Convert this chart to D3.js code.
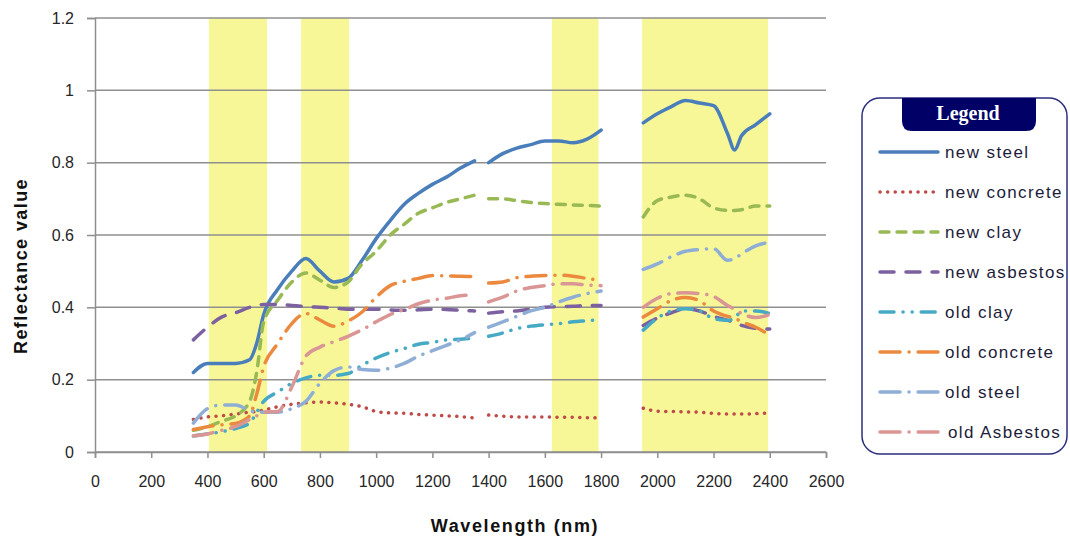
<!DOCTYPE html>
<html><head><meta charset="utf-8">
<script src="https://cdn.jsdelivr.net/npm/d3@7"></script>
<style>
html,body{margin:0;padding:0;background:#fff;}
svg{display:block;font-family:"Liberation Sans",Arial,sans-serif;}
</style></head>
<body><svg id="chart" width="1070" height="541"></svg>
<script>
// ---- data ----
const wavelengths = [350,400,450,500,550,575,600,650,700,750,800,850,900,950,1000,1050,1100,1150,1200,1250,1300,1350,
  1375,
  1400,1450,1500,1550,1600,1650,1700,1750,1800,
  1875,
  1950,2000,2050,2100,2150,2200,2250,2275,2300,2350,2400];

const seriesNames = ["new steel","new concrete","new clay","new asbestos","old clay","old concrete","old steel","old Asbestos"];

const newSteel = [0.22,0.245,0.245,0.245,0.255,0.30,0.38,0.45,0.50,0.535,0.50,0.47,0.48,0.53,0.59,0.64,0.685,0.715,0.74,0.76,0.785,0.805,
  null,
  0.80,0.825,0.84,0.85,0.86,0.86,0.855,0.865,0.89,
  null,
  0.91,0.935,0.955,0.972,0.965,0.958,0.88,0.835,0.875,0.905,0.935];
const newConcrete = [0.09,0.097,0.10,0.105,0.11,0.112,0.116,0.125,0.132,0.136,0.138,0.136,0.132,0.125,0.112,0.108,0.107,0.104,0.102,0.10,0.098,0.094,
  null,
  0.102,0.099,0.097,0.097,0.097,0.096,0.096,0.095,0.094,
  null,
  0.121,0.113,0.112,0.111,0.11,0.107,0.105,0.105,0.105,0.106,0.108];
const newClay = [0.06,0.07,0.085,0.10,0.14,0.22,0.36,0.42,0.47,0.495,0.475,0.455,0.47,0.52,0.555,0.60,0.63,0.66,0.675,0.69,0.70,0.71,
  null,
  0.70,0.70,0.695,0.69,0.687,0.685,0.683,0.682,0.68,
  null,
  0.65,0.695,0.705,0.71,0.70,0.675,0.668,0.668,0.67,0.68,0.68];
const newAsbestos = [0.31,0.345,0.373,0.385,0.40,0.405,0.408,0.408,0.405,0.402,0.40,0.398,0.395,0.395,0.395,0.393,0.392,0.393,0.395,0.394,0.392,0.39,
  null,
  0.384,0.388,0.39,0.395,0.40,0.402,0.403,0.405,0.405,
  null,
  0.35,0.37,0.385,0.396,0.39,0.375,0.364,0.358,0.35,0.342,0.34];
const oldClay = [0.044,0.05,0.056,0.065,0.08,0.11,0.14,0.166,0.19,0.205,0.212,0.212,0.217,0.24,0.26,0.275,0.286,0.298,0.303,0.31,0.312,0.315,
  null,
  0.32,0.329,0.341,0.348,0.352,0.355,0.36,0.363,0.366,
  null,
  0.337,0.37,0.39,0.396,0.39,0.369,0.364,0.37,0.39,0.39,0.383];
const oldConcrete = [0.062,0.07,0.075,0.079,0.10,0.16,0.235,0.30,0.355,0.383,0.365,0.348,0.362,0.387,0.428,0.46,0.472,0.48,0.488,0.487,0.486,0.485,
  null,
  0.467,0.47,0.482,0.486,0.488,0.489,0.486,0.48,0.474,
  null,
  0.373,0.396,0.419,0.427,0.418,0.39,0.375,0.37,0.36,0.345,0.323];
const oldSteel = [0.08,0.12,0.13,0.13,0.115,0.11,0.11,0.11,0.12,0.14,0.19,0.225,0.235,0.228,0.226,0.232,0.245,0.265,0.28,0.295,0.31,0.33,
  null,
  0.345,0.36,0.375,0.39,0.40,0.415,0.428,0.438,0.445,
  null,
  0.505,0.52,0.54,0.555,0.56,0.562,0.53,0.535,0.548,0.57,0.58];
const oldAsbestos = [0.045,0.05,0.06,0.07,0.09,0.10,0.11,0.112,0.18,0.265,0.29,0.305,0.32,0.338,0.36,0.38,0.394,0.41,0.42,0.425,0.432,0.435,
  null,
  0.415,0.428,0.445,0.455,0.46,0.465,0.465,0.462,0.46,
  null,
  0.40,0.425,0.438,0.44,0.438,0.43,0.405,0.395,0.383,0.372,0.38];

const seriesValues = [newSteel,newConcrete,newClay,newAsbestos,oldClay,oldConcrete,oldSteel,oldAsbestos];
const seriesColors = ["#4A7EBB","#BE4B48","#98B954","#7D60A0","#46AAC5","#EB8A3E","#8FAED6","#D99694"];
const seriesDashes = [null,"0.1 7.5","9 8","14 12","14 9 0.1 9 0.1 9","20 9 0.1 9","20 9 0.1 9","20 9 0.1 9"];

const bandStart = [405, 733, 1625, 1946];
const bandEnd   = [612, 904, 1791, 2394];

const xTicks = d3.range(0, 2601, 200);
const yTicks = [0,0.2,0.4,0.6,0.8,1,1.2];

// ---- layout ----
const svg = d3.select("#chart");
const m = {left:95, right:826, top:18, bottom:452};
const x = d3.scaleLinear().domain([0,2600]).range([m.left,m.right]);
const y = d3.scaleLinear().domain([0,1.2]).range([m.bottom,m.top]);
const gridColor = "#8f8f8f";
const textColor = "#262626";

// bands
svg.append("g").selectAll("rect").data(bandStart).join("rect")
  .attr("x", (d)=>x(d)).attr("y", m.top)
  .attr("width", (d,i)=>x(bandEnd[i])-x(d)).attr("height", m.bottom-m.top)
  .attr("fill","#F7F797");

// gridlines
svg.append("g").selectAll("line").data(yTicks).join("line")
  .attr("x1", m.left).attr("x2", m.right)
  .attr("y1", d=>y(d)).attr("y2", d=>y(d))
  .attr("stroke", gridColor).attr("stroke-width",1.5);

// y axis
const yAxis = svg.append("g").attr("transform",`translate(${m.left},0)`)
  .call(d3.axisLeft(y).tickValues(yTicks).tickFormat(d=>d3.format("")(d)).tickSize(8).tickPadding(13));
yAxis.select(".domain").attr("stroke",gridColor).attr("stroke-width",1.5);
yAxis.selectAll(".tick line").attr("stroke",gridColor).attr("stroke-width",1.5);
yAxis.selectAll("text").attr("font-size","16px").attr("fill",textColor).attr("font-family","Liberation Sans, Arial");

// x axis
const xAxis = svg.append("g").attr("transform",`translate(0,${m.bottom})`)
  .call(d3.axisBottom(x).tickValues(xTicks).tickFormat(d3.format("d")).tickSize(6).tickPadding(18));
xAxis.select(".domain").attr("stroke",gridColor).attr("stroke-width",1.5);
xAxis.selectAll(".tick line").attr("stroke",gridColor).attr("stroke-width",1.5);
xAxis.selectAll("text").attr("font-size","16px").attr("fill",textColor).attr("font-family","Liberation Sans, Arial");

// axis titles
svg.append("text").attr("x",515).attr("y",532).attr("text-anchor","middle")
  .attr("font-size","18px").attr("font-weight","bold").attr("letter-spacing","1.6px")
  .attr("fill","#111").text("Wavelength (nm)");
svg.append("text").attr("transform","translate(27,266) rotate(-90)").attr("text-anchor","middle")
  .attr("font-size","18px").attr("font-weight","bold").attr("letter-spacing","1.4px")
  .attr("fill","#111").text("Reflectance value");

// series lines
const line = d3.line()
  .defined(d=>d.v!=null)
  .x(d=>x(d.w)).y(d=>y(d.v))
  .curve(d3.curveMonotoneX);

const gLines = svg.append("g");
seriesNames.forEach((name,i)=>{
  const pts = wavelengths.map((w,j)=>({w, v: seriesValues[i][j]}));
  const p = gLines.append("path").datum(pts)
    .attr("d", line).attr("fill","none")
    .attr("stroke", seriesColors[i]).attr("stroke-width", 3.5)
    .attr("stroke-linecap","round").attr("stroke-linejoin","round");
  if (seriesDashes[i]) p.attr("stroke-dasharray", seriesDashes[i]);
});

// legend
const lg = svg.append("g");
lg.append("rect").attr("x",862).attr("y",98).attr("width",205).attr("height",356)
  .attr("rx",18).attr("ry",18).attr("fill","#fff").attr("stroke","#2B2F7E").attr("stroke-width",1.5);
lg.append("path")
  .attr("d","M902,98 H1036 V121 Q1036,131 1026,131 H912 Q902,131 902,121 Z")
  .attr("fill","#000066");
lg.append("text").attr("x",968).attr("y",120).attr("text-anchor","middle")
  .attr("font-family","Liberation Serif, Times New Roman, serif").attr("font-weight","bold")
  .attr("font-size","20px").attr("fill","#fff").text("Legend");

const legendY = d3.scaleLinear().domain([0,7]).range([152,432]);
seriesNames.forEach((name,i)=>{
  const yy = legendY(i);
  const l = lg.append("line").attr("x1",880).attr("x2",938).attr("y1",yy).attr("y2",yy)
    .attr("stroke",seriesColors[i]).attr("stroke-width",3.5).attr("stroke-linecap","round");
  if (seriesDashes[i]) l.attr("stroke-dasharray", seriesDashes[i]);
  lg.append("text").attr("x", i===7 ? 948 : 945).attr("y", yy+6)
    .attr("font-size","17px").attr("letter-spacing","1.4px").attr("fill","#1c1c3a")
    .text(name);
});
</script></body></html>
